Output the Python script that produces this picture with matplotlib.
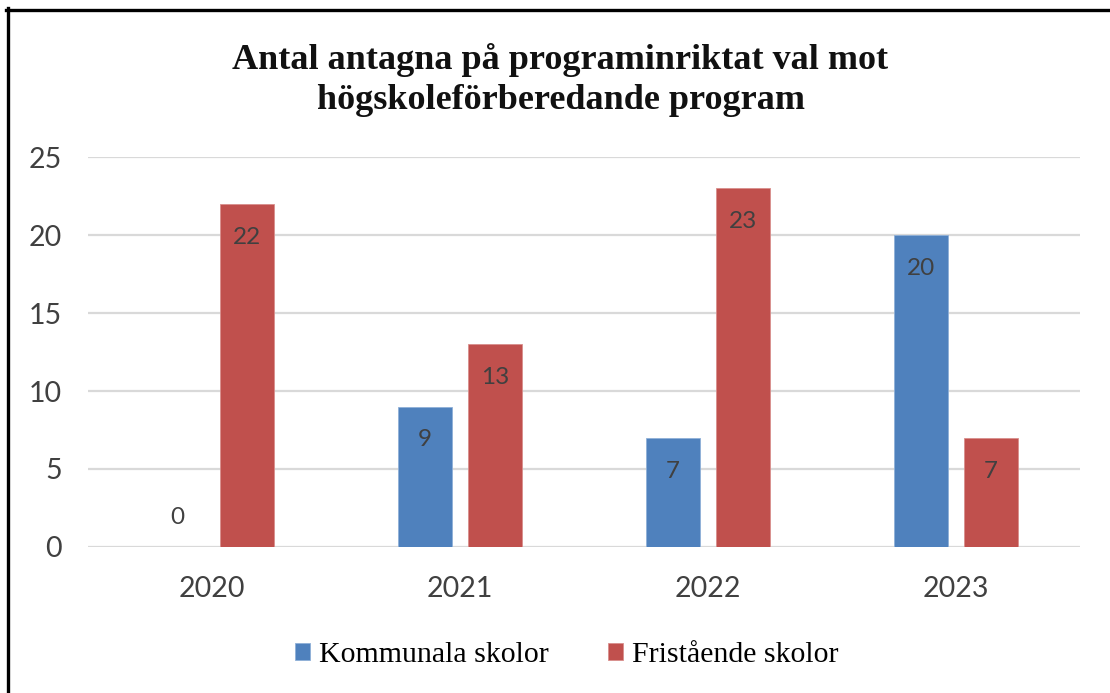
import numpy as np
import matplotlib.pyplot as plt
from matplotlib.lines import Line2D

# data
years = ["2020", "2021", "2022", "2023"]
kommunala = [0, 9, 7, 20]
fristaende = [22, 13, 23, 7]
series_names = ["Kommunala skolor", "Fristående skolor"]
title = "Antal antagna på programinriktat val mot\nhögskoleförberedande program"

blue = "#4F81BD"
red = "#C0504D"
txt = "#404040"

fig = plt.figure(figsize=(11.1, 6.93), dpi=100)
ax = fig.add_axes([0.0793, 0.2107, 0.973 - 0.0793, 0.7734 - 0.2107])

x = np.arange(len(years))
w = 0.218
off = 0.141
b1 = ax.bar(x - off, kommunala, w, color=blue, edgecolor="#8FB0D8", linewidth=0.6,
            label=series_names[0], zorder=3)
b2 = ax.bar(x + off, fristaende, w, color=red, edgecolor="#D98E8C", linewidth=0.6,
            label=series_names[1], zorder=3)

# data labels, inside end
for bars, vals in [(b1, kommunala), (b2, fristaende)]:
    for rect, v in zip(bars, vals):
        cx = rect.get_x() + rect.get_width() / 2
        dy = -24 if v > 0 else 21
        ax.annotate(str(v), (cx, v), xytext=(0, dy), textcoords="offset points",
                    ha="center", va="center", fontsize=17.5, color=txt,
                    family="Lato", zorder=4)

ax.set_xlim(-0.5, 3.5)
ax.set_ylim(0, 25)
ax.set_yticks([0, 5, 10, 15, 20, 25])
ax.set_xticks(x)
ax.set_xticklabels(years)
ax.tick_params(length=0, labelsize=20.5, labelcolor=txt)
ax.tick_params(axis="y", pad=19)
ax.tick_params(axis="x", pad=21)
for lab in ax.get_xticklabels() + ax.get_yticklabels():
    lab.set_family("Lato")
ax.grid(axis="y", color="#D9D9D9", linewidth=1.6, zorder=0)
ax.set_axisbelow(True)
for s in ax.spines.values():
    s.set_visible(False)

fig.text(0.505, 1 - 80 / 693, title, ha="center", va="center",
         fontsize=26, fontweight="bold", family="Liberation Serif",
         color="#111111", linespacing=1.28)

fig.legend(loc="center", bbox_to_anchor=(567 / 1110, 1 - 655 / 693), ncol=2,
           frameon=False, prop={"family": "Liberation Serif", "size": 21.5},
           handlelength=0.5, handleheight=0.5, handletextpad=0.3,
           columnspacing=2.0)

# frame lines (left and top)
fig.add_artist(Line2D([7.5 / 1110, 7.5 / 1110], [0, 1 - 8 / 693], color="black",
                      linewidth=2.4, transform=fig.transFigure))
fig.add_artist(Line2D([6 / 1110, 1], [1 - 9.5 / 693, 1 - 9.5 / 693], color="black",
                      linewidth=2.4, transform=fig.transFigure))

fig.savefig("out.png", dpi=100)
